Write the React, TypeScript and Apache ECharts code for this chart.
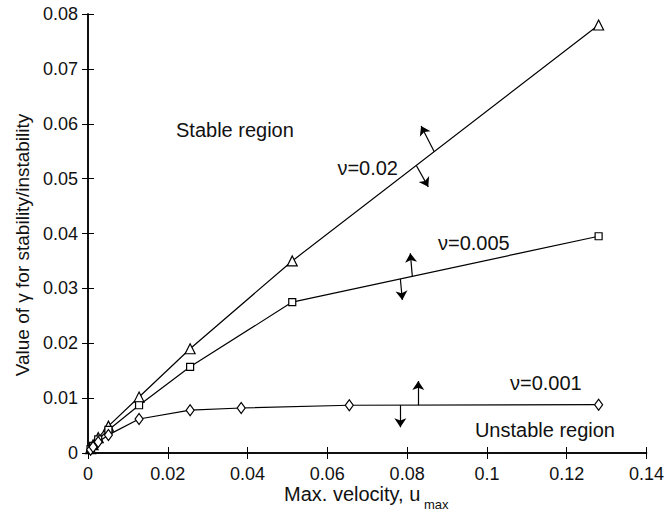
import React, { useEffect, useRef } from "react";
import * as echarts from "echarts";

const uMax = [0.00064, 0.00128, 0.00256, 0.00512, 0.0128, 0.0256, 0.0512, 0.128];
const gamma002 = [0.0008, 0.0015, 0.0028, 0.0049, 0.0102, 0.019, 0.035, 0.078];
const gamma0005 = [0.0007, 0.0013, 0.0025, 0.0042, 0.0087, 0.0157, 0.0275, 0.0395];
const uMax001 = [0.00064, 0.00128, 0.00256, 0.00512, 0.0128, 0.0256, 0.0384, 0.0655, 0.128];
const gamma001 = [0.0006, 0.0011, 0.002, 0.0033, 0.0062, 0.0078, 0.0082, 0.0087, 0.0088];

const arrows002 = [
  [[0.0868, 0.0549], [0.0835, 0.0596]],
  [[0.0823, 0.0524], [0.0853, 0.0485]],
];
const arrows0005 = [
  [[0.0813, 0.0322], [0.0808, 0.0364]],
  [[0.0783, 0.0317], [0.0788, 0.0279]],
];
const arrows001 = [
  [[0.0828, 0.00872], [0.0828, 0.0131]],
  [[0.0783, 0.0087], [0.0783, 0.0047]],
];

const xTicks = { min: 0, max: 0.14, interval: 0.02 };
const yTicks = { min: 0, max: 0.08, interval: 0.01 };

const FONT = "'Liberation Sans', Arial, sans-serif";

export default function App() {
  const ref = useRef<HTMLDivElement>(null);
  useEffect(() => {
    if (!ref.current) return;
    const chart = echarts.init(ref.current, null, { renderer: "svg" });
    const fmt = (v: number) => String(+v.toFixed(3));
    const axisLine = { show: true, lineStyle: { color: "#000", width: 1.5 } };
    const tick = { show: true, inside: true, length: 6, lineStyle: { color: "#000", width: 1 } };
    const lbl = { color: "#111", fontSize: 18, fontFamily: FONT, formatter: fmt };
    const zip = (xs: number[], ys: number[]) => xs.map((x, i) => [x, ys[i]]);
    const lineSeries = (name: string, data: number[][], symbol: string, size: any) => ({
      name,
      type: "line",
      data,
      symbol,
      symbolSize: size,
      showSymbol: true,
      lineStyle: { color: "#000", width: 1.2 },
      itemStyle: { color: "#fff", borderColor: "#000", borderWidth: 1.2 },
      z: 3,
    });
    const arrowSeries = (data: number[][][]) => ({
      type: "lines",
      coordinateSystem: "cartesian2d",
      xAxisIndex: 0,
      yAxisIndex: 0,
      symbol: ["none", "arrow"],
      symbolSize: 9,
      lineStyle: { color: "#000", width: 1.2, opacity: 1, curveness: 0 },
      data: data.map((c) => ({ coords: c })),
      z: 4,
    });
    const txt = (text: string, x: number, y: number, size: number, align = "left") => ({
      type: "text",
      x,
      y,
      style: { text, fontSize: size, fontFamily: FONT, fill: "#111", align, verticalAlign: "middle" },
    });
    chart.setOption({
      animation: false,
      backgroundColor: "#fff",
      grid: { left: 88, right: 20, top: 14, bottom: 65, containLabel: false },
      xAxis: [
        {
          type: "value", ...xTicks, position: "bottom",
          axisLine, axisTick: tick, axisLabel: { ...lbl, margin: 12 }, splitLine: { show: false },
        },
        {
          type: "value", ...xTicks, position: "top",
          axisLine, axisTick: tick, axisLabel: { show: false }, splitLine: { show: false },
        },
      ],
      yAxis: [
        {
          type: "value", ...yTicks, position: "left",
          axisLine, axisTick: tick, axisLabel: { ...lbl, margin: 10 }, splitLine: { show: false },
        },
        {
          type: "value", ...yTicks, position: "right",
          axisLine, axisTick: tick, axisLabel: { show: false }, splitLine: { show: false },
        },
      ],
      series: [
        lineSeries("ν=0.02", zip(uMax, gamma002), "triangle", 10),
        lineSeries("ν=0.005", zip(uMax, gamma0005), "rect", 7),
        lineSeries("ν=0.001", zip(uMax001, gamma001), "diamond", [8, 11]),
        arrowSeries(arrows002),
        arrowSeries(arrows0005),
        arrowSeries(arrows001),
      ],
      graphic: [
        txt("Stable region", 176, 130, 20),
        txt("ν=0.02", 398, 168, 20, "right"),
        txt("ν=0.005", 438, 243, 20),
        txt("ν=0.001", 510, 383, 20),
        txt("Unstable region", 615, 430, 20, "right"),
        txt("Max. velocity, u", 284, 494, 20),
        txt("max", 424, 504, 13),
        {
          type: "text", x: 22, y: 245, rotation: Math.PI / 2,
          style: { text: "Value of γ for stability/instability", fontSize: 19, fontFamily: FONT, fill: "#111", align: "center", verticalAlign: "middle" },
        },
      ],
    });
    return () => chart.dispose();
  }, []);
  return <div ref={ref} style={{ position: "absolute", left: 0, top: 0, width: 667, height: 518 }} />;
}
